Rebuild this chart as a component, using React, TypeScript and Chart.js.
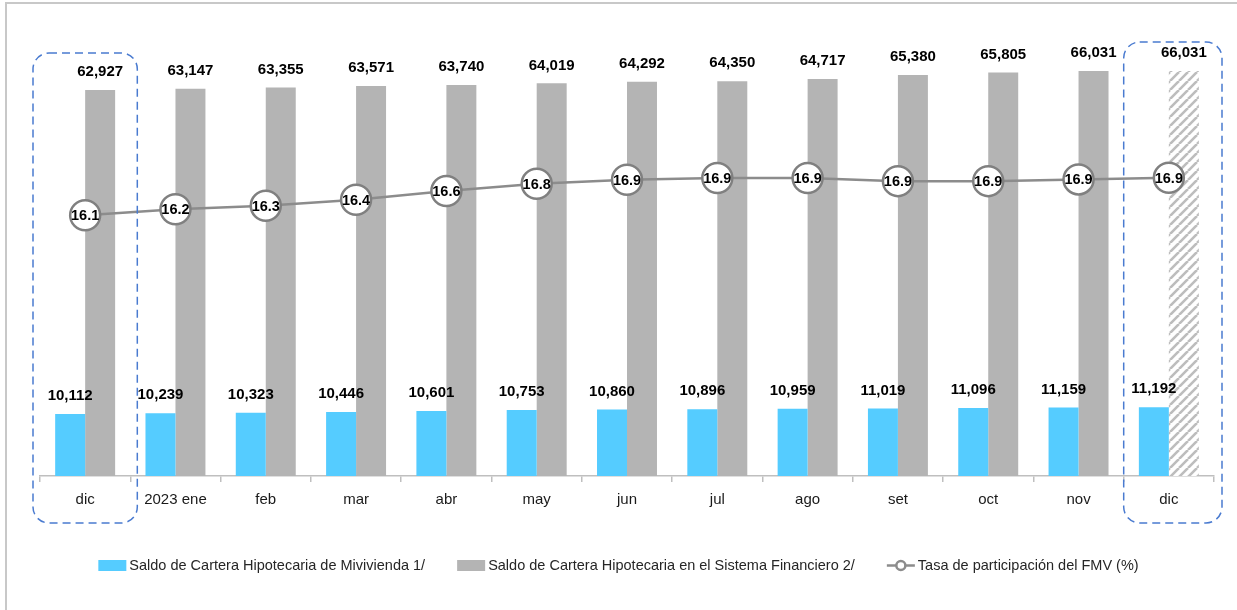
import { useEffect, useRef } from "react";
import { Chart, registerables } from "chart.js";

Chart.register(...registerables);

const categories = ["dic", "2023 ene", "feb", "mar", "abr", "may", "jun", "jul", "ago", "set", "oct", "nov", "dic"];
const miviviendaValues = [10112, 10239, 10323, 10446, 10601, 10753, 10860, 10896, 10959, 11019, 11096, 11159, 11192];
const sistemaValues = [62927, 63147, 63355, 63571, 63740, 64019, 64292, 64350, 64717, 65380, 65805, 66031, 66031];
const tasaValues = [16.07, 16.21, 16.29, 16.43, 16.63, 16.8, 16.89, 16.93, 16.93, 16.86, 16.86, 16.9, 16.94];
const legendLabels = [
  "Saldo de Cartera Hipotecaria de Mivivienda 1/",
  "Saldo de Cartera Hipotecaria en el Sistema Financiero 2/",
  "Tasa de participación del FMV (%)",
];
const hatchedIndex = 12;
const highlightBoxes = [
  { index: 0, padLeft: 7, padRight: 7, top: 53, bottom: 523 },
  { index: 12, padLeft: 0, padRight: 8, top: 42, bottom: 523 },
];

const BLUE = "#55CCFF";
const GRAY = "#B4B4B4";
const LINE = "#8C8C8C";
const FONT = "'Liberation Sans', Arial, sans-serif";

function makeHatch(): CanvasPattern | string {
  const c = document.createElement("canvas");
  c.width = 9;
  c.height = 9;
  const g = c.getContext("2d");
  if (!g) return GRAY;
  g.fillStyle = "#ffffff";
  g.fillRect(0, 0, 9, 9);
  g.strokeStyle = "#BDBDBD";
  g.lineWidth = 2.6;
  g.beginPath();
  for (const o of [-9, 0, 9]) {
    g.moveTo(o, 9);
    g.lineTo(o + 9, 0);
  }
  g.stroke();
  return g.createPattern(c, "repeat") || GRAY;
}

const valueLabelsPlugin = {
  id: "valueLabels",
  afterDatasetsDraw(chart: any) {
    const ctx = chart.ctx;
    ctx.save();
    ctx.font = `bold 15px ${FONT}`;
    ctx.fillStyle = "#000";
    ctx.textAlign = "center";
    ctx.textBaseline = "middle";
    [0, 1].forEach((di) => {
      const meta = chart.getDatasetMeta(di);
      meta.data.forEach((el: any, i: number) => {
        const v = chart.data.datasets[di].data[i] as number;
        ctx.fillText(v.toLocaleString("en-US"), el.x, el.y - 18);
      });
    });
    ctx.font = `bold 14.5px ${FONT}`;
    const lm = chart.getDatasetMeta(2);
    lm.data.forEach((el: any, i: number) => {
      const v = chart.data.datasets[2].data[i] as number;
      ctx.fillText(v.toFixed(1), el.x, el.y + 1);
    });
    ctx.restore();
  },
};

const decorPlugin = {
  id: "decor",
  afterDraw(chart: any) {
    const ctx = chart.ctx;
    const xs = chart.scales.x;
    const half = xs.width / categories.length / 2;
    ctx.save();
    // outer frame (top + left)
    ctx.strokeStyle = "#C8C8C8";
    ctx.lineWidth = 2;
    ctx.beginPath();
    ctx.moveTo(6, 610);
    ctx.lineTo(6, 3);
    ctx.lineTo(1237, 3);
    ctx.stroke();

    // dashed highlight boxes
    ctx.strokeStyle = "#4A7BD0";
    ctx.lineWidth = 1.5;
    ctx.setLineDash([8, 5]);
    highlightBoxes.forEach((b) => {
      const cx = xs.getPixelForValue(b.index);
      const l = cx - half - b.padLeft;
      const r = cx + half + b.padRight;
      ctx.beginPath();
      (ctx as any).roundRect(l, b.top, r - l, b.bottom - b.top, 16);
      ctx.stroke();
    });
    ctx.setLineDash([]);

    // legend
    ctx.font = `14.5px ${FONT}`;
    ctx.textBaseline = "middle";
    ctx.textAlign = "left";
    const boxW = 28;
    const boxH = 11;
    const gapText = 3;
    const gapItem = 32;
    const widths = legendLabels.map((t) => ctx.measureText(t).width);
    const total = widths.reduce((a, w) => a + boxW + gapText + w, 0) + gapItem * (legendLabels.length - 1);
    let x = (chart.width - total) / 2;
    const cy = 565.5;
    legendLabels.forEach((t, i) => {
      if (i === 0 || i === 1) {
        ctx.fillStyle = i === 0 ? BLUE : GRAY;
        ctx.fillRect(x, cy - boxH / 2, boxW, boxH);
      } else {
        ctx.strokeStyle = LINE;
        ctx.lineWidth = 2.5;
        ctx.beginPath();
        ctx.moveTo(x, cy);
        ctx.lineTo(x + boxW, cy);
        ctx.stroke();
        ctx.beginPath();
        ctx.arc(x + boxW / 2, cy, 4.5, 0, Math.PI * 2);
        ctx.fillStyle = "#fff";
        ctx.fill();
        ctx.stroke();
      }
      ctx.fillStyle = "#262626";
      ctx.fillText(t, x + boxW + gapText, cy);
      x += boxW + gapText + widths[i] + gapItem;
    });
    ctx.restore();
  },
};

export default function App() {
  const ref = useRef<HTMLCanvasElement | null>(null);

  useEffect(() => {
    document.body.style.margin = "0";
    const canvas = ref.current;
    if (!canvas) return;
    const hatch = makeHatch();
    const grayColors = sistemaValues.map((_, i) => (i === hatchedIndex ? hatch : GRAY));

    const chart = new Chart(canvas, {
      type: "bar",
      data: {
        labels: categories,
        datasets: [
          {
            type: "bar",
            label: legendLabels[0],
            data: miviviendaValues,
            backgroundColor: BLUE,
            yAxisID: "y",
            order: 2,
            categoryPercentage: 0.664,
            barPercentage: 1,
          },
          {
            type: "bar",
            label: legendLabels[1],
            data: sistemaValues,
            backgroundColor: grayColors as any,
            yAxisID: "y",
            order: 2,
            categoryPercentage: 0.664,
            barPercentage: 1,
          },
          {
            type: "line",
            label: legendLabels[2],
            data: tasaValues,
            yAxisID: "y1",
            order: 0,
            borderColor: LINE,
            borderWidth: 2.5,
            pointRadius: 15,
            pointBorderWidth: 2.5,
            pointBorderColor: "#808080",
            pointBackgroundColor: "#ffffff",
            tension: 0,
          } as any,
        ],
      },
      options: {
        responsive: false,
        animation: false,
        devicePixelRatio: 1,
        layout: { padding: { left: 40, right: 23, top: 43, bottom: 92 } },
        plugins: {
          legend: { display: false },
          tooltip: { enabled: false },
        },
        scales: {
          x: {
            offset: true,
            grid: {
              display: true,
              offset: true,
              drawOnChartArea: false,
              drawTicks: true,
              tickLength: 6,
              color: "#BFBFBF",
              lineWidth: 1.5,
            },
            border: { display: true, color: "#BFBFBF", width: 1.5 },
            ticks: {
              font: { family: FONT, size: 15 },
              color: "#1a1a1a",
              padding: 9,
              maxRotation: 0,
              autoSkip: false,
            },
          },
          y: { display: false, min: 0, max: 70600 },
          y1: { display: false, min: 10.05, max: 20.05 },
        },
      },
      plugins: [valueLabelsPlugin, decorPlugin],
    });
    return () => chart.destroy();
  }, []);

  return (
    <div style={{ width: 1237, height: 610, background: "#fff" }}>
      <canvas ref={ref} width={1237} height={610} style={{ display: "block" }} />
    </div>
  );
}
